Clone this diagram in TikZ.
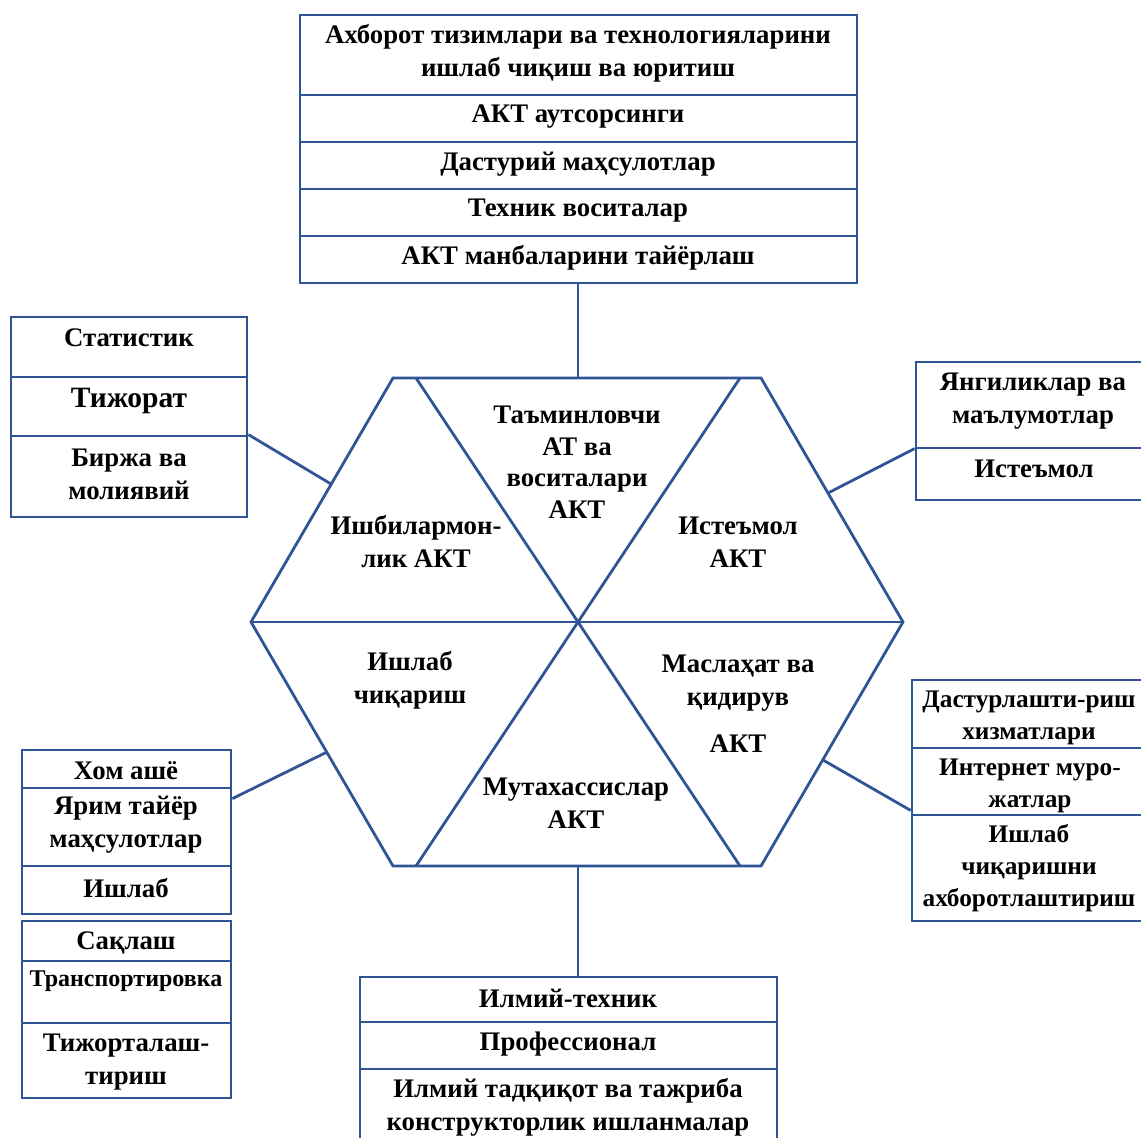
\documentclass[tikz,border=0pt]{standalone}
\usepackage{fontspec}
\setmainfont{Liberation Serif}
\definecolor{bl}{HTML}{2F5597}
\newcommand{\cell}[5]{\node[box, minimum width={(#4-#2)*1pt}, minimum height={(#5-#3)*1pt}] (#1) at ({(#2+#4)/2},{(#3+#5)/2}) {};}
\begin{document}
\begin{tikzpicture}[x=1pt,y=-1pt,
  box/.style={draw=bl, line width=2.8pt, inner sep=0pt, fill=none},
  ln/.style={draw=bl, line width=2.8pt, line join=miter},
  txt/.style={font=\fontsize{26.8}{33}\selectfont\bfseries, align=center, inner sep=0pt, text=black},
  big/.style={font=\fontsize{29.5}{35}\selectfont\bfseries},
  small/.style={font=\fontsize{24}{28}\selectfont\bfseries},
  rtxt/.style={font=\fontsize{25.3}{32}\selectfont\bfseries}]
\useasboundingbox (0,0) rectangle (1141,1138);
\clip (0,0) rectangle (1141,1138);
% ---------- top stack
\cell{T1}{300}{15}{857}{95}
\cell{T2}{300}{95}{857}{142}
\cell{T3}{300}{142}{857}{189}
\cell{T4}{300}{189}{857}{236}
\cell{T5}{300}{236}{857}{283}
\node[txt] (tT1) at (578,53) {Ахборот тизимлари ва технологияларини\\ишлаб чиқиш ва юритиш};
\node[txt] (tT2) at (578,117) {АКТ аутсорсинги};
\node[txt] (tT3) at (578,164) {Дастурий маҳсулотлар};
\node[txt] (tT4) at (578,211) {Техник воситалар};
\node[txt] (tT5) at (578,258) {АКТ манбаларини тайёрлаш};
% ---------- left stack
\cell{L1}{11}{317}{247}{377}
\cell{L2}{11}{377}{247}{436}
\cell{L3}{11}{436}{247}{517}
\node[txt] (tL1) at (129,338) {Статистик};
\node[txt,big] (tL2) at (129,401) {Тижорат};
\node[txt] (tL3) at (129,474) {Биржа ва\\молиявий};
% ---------- right top stack
\cell{R1}{916}{362}{1150}{448}
\cell{R2}{916}{448}{1150}{500}
\node[txt] (tR1) at (1033,401) {Янгиликлар ва\\маълумотлар};
\node[txt] (tR2) at (1034,469) {Истеъмол};
% ---------- right bottom stack
\cell{RB1}{912}{680}{1150}{748}
\cell{RB2}{912}{748}{1150}{815}
\cell{RB3}{912}{815}{1150}{921}
\node[txt,rtxt] (tRB1) at (1029,718) {Дастурлашти-риш\\хизматлари};
\node[txt,rtxt] (tRB2) at (1030,786) {Интернет муро-\\жатлар};
\node[txt,rtxt] (tRB3) at (1029,868) {Ишлаб\\чиқаришни\\ахборотлаштириш};
% ---------- left bottom stacks
\cell{LB1}{22}{750}{231}{788}
\cell{LB2}{22}{788}{231}{866}
\cell{LB3}{22}{866}{231}{914}
\cell{LB4}{22}{921}{231}{961}
\cell{LB5}{22}{961}{231}{1023}
\cell{LB6}{22}{1023}{231}{1098}
\node[txt] (tLB1) at (126,771) {Хом ашё};
\node[txt] (tLB2) at (126,825) {Ярим тайёр\\маҳсулотлар};
\node[txt] (tLB3) at (126,888) {Ишлаб};
\node[txt] (tLB4) at (126,943) {Сақлаш};
\node[txt,small] (tLB5) at (126,981) {Транспортировка};
\node[txt] (tLB6) at (126,1062) {Тижорталаш-\\тириш};
% ---------- bottom stack
\cell{B1}{360}{977}{777}{1022}
\cell{B2}{360}{1022}{777}{1069}
\cell{B3}{360}{1069}{777}{1160}
\node[txt] (tB1) at (568,998) {Илмий-техник};
\node[txt] (tB2) at (568,1044) {Профессионал};
\node[txt] (tB3) at (568,1107) {Илмий тадқиқот ва тажриба\\конструкторлик ишланмалар};
% ---------- hexagon
\coordinate (HA) at (393,378);
\coordinate (HB) at (761,378);
\coordinate (HC) at (903,622);
\coordinate (HD) at (761,866);
\coordinate (HE) at (393,866);
\coordinate (HF) at (251,622);
\coordinate (P1) at (416,378);
\coordinate (P2) at (740,378);
\coordinate (P3) at (416,866);
\coordinate (P4) at (740,866);
\draw[ln] (HA) -- (HB) -- (HC) -- (HD) -- (HE) -- (HF) -- cycle;
\draw[ln] (HF) -- (HC);
\draw[ln] (P1) -- (P4);
\draw[ln] (P2) -- (P3);
\node[txt,font=\fontsize{26.8}{31.5}\selectfont\bfseries] (h1) at (577,462) {Таъминловчи\\АТ ва\\воситалари\\АКТ};
\node[txt] (h2) at (416,542) {Ишбилармон-\\лик АКТ};
\node[txt] (h3) at (738,542) {Истеъмол\\АКТ};
\node[txt] (h4) at (410,680) {Ишлаб\\чиқариш};
\node[txt] (h5) at (738,704) {Маслаҳат ва\\қидирув\\[14pt]АКТ};
\node[txt] (h6) at (576,803) {Мутахассислар\\АКТ};
% ---------- connectors
\coordinate (cT) at (578,378);
\coordinate (cL) at (331,484);
\coordinate (cR) at (828,493);
\coordinate (cRB) at (823,760);
\coordinate (cLB) at (327,752);
\coordinate (cB) at (578,866);
\draw[ln] (cT) -- (cT |- T5.south);
\draw[ln] (L3.north east) -- (cL);
\draw[ln] ([yshift=-2pt]R2.north west) -- (cR);
\draw[ln] ([yshift=6pt]RB2.south west) -- (cRB);
\draw[ln] ([yshift=-12pt]LB2.north east) -- (cLB);
\draw[ln] (cB) -- (cB |- B1.north);
\end{tikzpicture}
\end{document}
